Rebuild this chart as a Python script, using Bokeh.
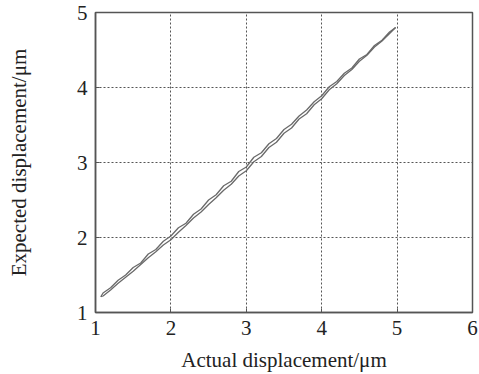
from bokeh.plotting import figure
from bokeh.models import Range1d, FixedTicker
from bokeh.embed import file_html
from bokeh.resources import INLINE

# Data
x_vals = [1.07, 1.1, 1.2, 1.3, 1.4, 1.5, 1.6, 1.7, 1.8, 1.9, 2.0, 2.1, 2.2, 2.3, 2.4,
          2.5, 2.6, 2.7, 2.8, 2.9, 3.0, 3.1, 3.2, 3.3, 3.4, 3.5, 3.6, 3.7, 3.8, 3.9,
          4.0, 4.1, 4.2, 4.3, 4.4, 4.5, 4.6, 4.7, 4.8, 4.9, 4.98]
y_forward = [1.21, 1.22, 1.30, 1.39, 1.47, 1.55, 1.64, 1.73, 1.81, 1.90, 1.97, 2.07,
             2.16, 2.26, 2.34, 2.44, 2.53, 2.63, 2.71, 2.82, 2.89, 3.01, 3.08, 3.20,
             3.27, 3.39, 3.46, 3.58, 3.65, 3.77, 3.85, 3.97, 4.05, 4.16, 4.24, 4.35,
             4.43, 4.54, 4.62, 4.72, 4.80]
y_return = [1.21, 1.26, 1.33, 1.43, 1.50, 1.60, 1.66, 1.78, 1.84, 1.95, 2.02, 2.13,
            2.19, 2.31, 2.38, 2.50, 2.57, 2.69, 2.75, 2.88, 2.94, 3.07, 3.13, 3.25,
            3.32, 3.44, 3.51, 3.62, 3.70, 3.81, 3.89, 4.01, 4.08, 4.19, 4.26, 4.38,
            4.44, 4.56, 4.63, 4.74, 4.80]
x_ticks = [1, 2, 3, 4, 5, 6]
y_ticks = [1, 2, 3, 4, 5]
x_label = "Actual displacement/\u03bcm"
y_label = "Expected displacement/\u03bcm"

p = figure(width=479, height=374, output_backend="svg", toolbar_location=None,
           x_range=Range1d(1, 6), y_range=Range1d(1, 5))
p.min_border_left = 95
p.min_border_right = 7
p.min_border_top = 12
p.min_border_bottom = 61
p.background_fill_color = "white"
p.border_fill_color = "white"
p.outline_line_color = "#555555"
p.outline_line_width = 1.5

p.line(x_vals, y_forward, line_color="#6a6a6a", line_width=1.3)
p.line(x_vals, y_return, line_color="#6a6a6a", line_width=1.3)

FONT = "Liberation Serif"
for ax in (p.xaxis, p.yaxis):
    ax.axis_line_color = "#555555"
    ax.axis_line_width = 1.5
    ax.major_tick_in = 4
    ax.major_tick_out = 0
    ax.minor_tick_line_color = None
    ax.major_tick_line_color = "#555555"
    ax.major_label_text_font = FONT
    ax.major_label_text_font_size = "21px"
    ax.major_label_text_color = "#222222"
    ax.axis_label_text_font = FONT
    ax.axis_label_text_font_size = "21px"
    ax.axis_label_text_font_style = "normal"
    ax.axis_label_text_color = "#222222"

p.xaxis.ticker = FixedTicker(ticks=x_ticks)
p.yaxis.ticker = FixedTicker(ticks=y_ticks)
p.xaxis.axis_label = x_label
p.yaxis.axis_label = y_label
p.xaxis.major_label_standoff = 8
p.yaxis.major_label_standoff = 8
p.xaxis.axis_label_standoff = 10
p.yaxis.axis_label_standoff = 43

for g in (p.xgrid, p.ygrid):
    g.grid_line_color = "#555555"
    g.grid_line_dash = "2 2"
    g.grid_line_width = 1

open("out.html", "w").write(file_html(p, INLINE))
